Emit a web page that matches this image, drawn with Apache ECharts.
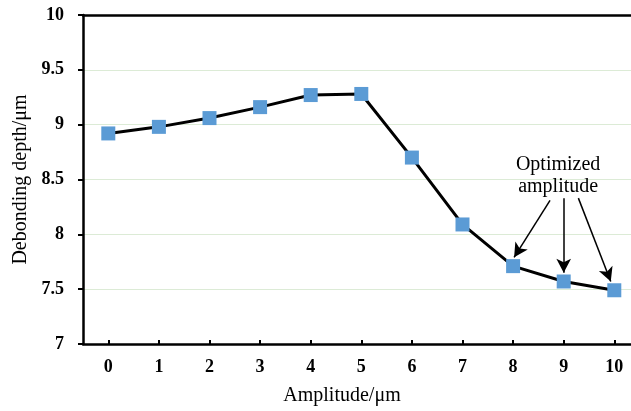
<!DOCTYPE html>
<html><head><meta charset="utf-8">
<script src="https://cdn.jsdelivr.net/npm/echarts@6/dist/echarts.min.js"></script>
<style>html,body{margin:0;padding:0;background:#fff}#c{width:631px;height:411px}</style>
</head><body><div id="c"></div>
<script>
var categories = [0, 1, 2, 3, 4, 5, 6, 7, 8, 9, 10];
var depth = [8.92, 8.98, 9.06, 9.16, 9.27, 9.28, 8.70, 8.09, 7.71, 7.57, 7.49];
var yTicks = [7, 7.5, 8, 8.5, 9, 9.5, 10];
var noteText = 'Optimized\namplitude';
var notePos = [8.89, 8.53];
var arrows = [
  [[8.73, 8.31], [8.02, 7.79]],
  [[9.0, 8.33], [9.0, 7.65]],
  [[9.29, 8.33], [9.93, 7.57]]
];
var serif = '"Liberation Serif","Times New Roman",serif';
var xMin = -0.5, xMax = 10.33;
var chart = echarts.init(document.getElementById('c'), null, {renderer:'canvas'});
chart.setOption({
  animation:false,
  grid:{left:83, top:15, height:329, right:0, containLabel:false},
  xAxis:[{
    type:'value', min:xMin, max:xMax, position:'bottom',
    name:'Amplitude/μm', nameLocation:'middle', nameGap:42,
    nameTextStyle:{fontFamily:serif, fontSize:20, color:'#000', padding:[0,30,0,0]},
    axisLine:{show:true, onZero:false, lineStyle:{color:'#000', width:2.5}},
    axisTick:{show:true, inside:true, length:4, customValues:categories, lineStyle:{color:'#000', width:2}},
    axisLabel:{fontFamily:serif, fontWeight:'bold', fontSize:18, color:'#000', margin:14, customValues:categories},
    splitLine:{show:false}
  },{
    type:'value', min:xMin, max:xMax, position:'top',
    axisLine:{show:true, onZero:false, lineStyle:{color:'#000', width:2.5}},
    axisTick:{show:false}, axisLabel:{show:false}, splitLine:{show:false}
  }],
  yAxis:{
    type:'value', min:yTicks[0], max:yTicks[yTicks.length-1], interval:0.5,
    name:'Debonding depth/μm', nameLocation:'middle', nameGap:51,
    nameTextStyle:{fontFamily:serif, fontSize:20, color:'#000'},
    axisLine:{show:true, onZero:false, lineStyle:{color:'#000', width:2.5}},
    axisTick:{show:true, length:5, lineStyle:{color:'#000', width:2}},
    axisLabel:{fontFamily:serif, fontWeight:'bold', fontSize:18, color:'#000', margin:19},
    splitLine:{lineStyle:{color:'#dcebd6', width:1}}
  },
  series:[{
    type:'line', xAxisIndex:0,
    data: categories.map(function(c, i){ return [c, depth[i]]; }),
    symbol:'rect', symbolSize:14,
    itemStyle:{color:'#5b9bd5'},
    lineStyle:{color:'#000', width:3},
    z:3
  },{
    type:'scatter', xAxisIndex:0, data:[], silent:true,
    markLine:{
      silent:true, symbol:['none','arrow'], symbolSize:[11,14],
      lineStyle:{color:'#000', width:1.5, type:'solid'},
      label:{show:false},
      data: arrows.map(function(a){return [{coord:a[0]},{coord:a[1]}];})
    },
    markPoint:{
      symbol:'circle', symbolSize:1, itemStyle:{color:'rgba(0,0,0,0)'},
      label:{show:true, formatter:noteText, fontFamily:serif, fontSize:20, color:'#000', lineHeight:22, align:'center'},
      data:[{coord:notePos}]
    }
  }]
});
</script></body></html>
